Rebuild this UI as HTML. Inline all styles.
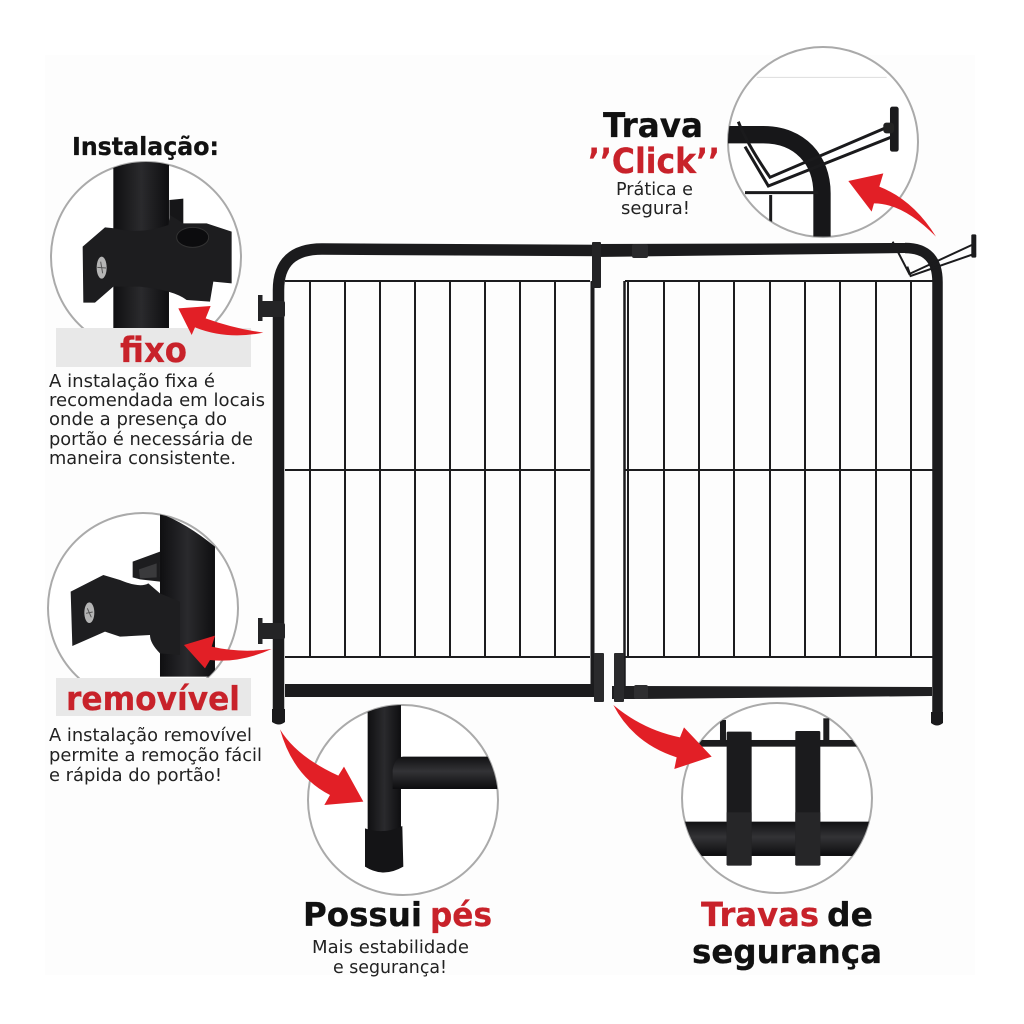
<!DOCTYPE html>
<html><head><meta charset="utf-8"><style>
html,body{margin:0;padding:0;background:#fff}
svg{display:block}
.h{font-family:"DejaVu Sans","Liberation Sans",sans-serif;font-weight:700;stroke-width:.3;paint-order:stroke}
.b{font-family:"DejaVu Sans","Liberation Sans",sans-serif;font-size:17.5px;fill:#222}
</style></head><body>
<svg xmlns="http://www.w3.org/2000/svg" width="1024" height="1024" viewBox="0 0 1024 1024">
<defs>
<clipPath id="c1"><circle cx="146" cy="257" r="95"/></clipPath>
<clipPath id="c2"><circle cx="143" cy="608" r="95"/></clipPath>
<clipPath id="c3"><circle cx="823" cy="142" r="95"/></clipPath>
<clipPath id="c4"><circle cx="403" cy="800" r="95"/></clipPath>
<clipPath id="c5"><circle cx="777" cy="798" r="95"/></clipPath>
<linearGradient id="tube" x1="0" y1="0" x2="0" y2="1"><stop offset="0" stop-color="#111113"/><stop offset=".45" stop-color="#333336"/><stop offset="1" stop-color="#0c0c0e"/></linearGradient>
<linearGradient id="vtube" x1="0" y1="0" x2="1" y2="0"><stop offset="0" stop-color="#0f0f11"/><stop offset=".5" stop-color="#2a2a2d"/><stop offset="1" stop-color="#0e0e10"/></linearGradient>
</defs>
<rect width="1024" height="1024" fill="#fff"/>
<rect x="45" y="55" width="930" height="920" fill="#fdfdfd"/>

<!-- gate mesh -->
<g stroke="#1c1c1e" stroke-width="2" fill="none">
<path d="M285 281H590M625 281H933M285 470H590M625 470H933M285 657H590M625 657H933"/>
<path d="M310 281V657M345 281V657M380 281V657M415 281V657M450 281V657M485 281V657M520 281V657M555 281V657"/>
<path d="M628 281V657M664 281V657M699 281V657M734 281V657M770 281V657M805 281V657M840 281V657M876 281V657M911 281V657"/>
</g>
<path d="M592.5 281V690" stroke="#1c1c1e" stroke-width="4" fill="none"/>
<path d="M624.500 281V690" stroke="#1c1c1e" stroke-width="2.500" fill="none"/>
<!-- frame -->
<g fill="none" stroke="#1b1b1d">
<path d="M278.5 709V290Q278.500 249 322 249L600 250.500" stroke-width="11.500"/>
<path d="M905 248Q937.500 248 937.500 282V712" stroke-width="10.500"/>
</g>
<path d="M596 244L905 243V253L596 257Z" fill="#1b1b1d"/>
<path d="M285 684H596V697H285Z" fill="#1b1b1d"/>
<path d="M612 686L640 686L932 687V696L640 699H612Z" fill="#1f1f21"/>
<rect x="632" y="244" width="16" height="14" rx="2" fill="#29292b"/>
<rect x="592" y="242" width="9" height="46" rx="1" fill="#232325"/>
<rect x="594" y="653" width="10" height="49" rx="1" fill="#2a2a2c"/>
<rect x="614" y="653" width="10" height="49" rx="1" fill="#2a2a2c"/>
<rect x="634" y="685" width="14" height="14" rx="2" fill="#2e2e30"/>
<path d="M272 709H285V722Q279 727 272 722Z" fill="#1a1a1c"/>
<path d="M931 712H943V723Q937 728 931 723Z" fill="#1a1a1c"/>
<!-- side clamps -->
<g fill="#242426">
<rect x="258" y="295" width="4.500" height="26"/><rect x="261" y="301" width="24" height="16" rx="2"/>
<rect x="258" y="618" width="4.500" height="26"/><rect x="261" y="623" width="24" height="16" rx="2"/>
</g>
<!-- small click latch -->
<g transform="translate(720 40) scale(.3333)">
<path d="M518 605L568 702L762 612M562 680L572 708L768 640" fill="none" stroke="#1b1b1d" stroke-width="6"/>
<rect x="754" y="583" width="15" height="70" rx="4" fill="#1b1b1d"/>
</g>

<!-- Circle 1: fixo -->
<circle cx="146" cy="257" r="95" fill="#fff" stroke="#aaa" stroke-width="2"/>
<g clip-path="url(#c1)">
<g transform="translate(40 120) scale(.3333)">
<rect x="220" y="125" width="167" height="530" fill="url(#vtube)"/>
<path d="M388 240L430 236V315H388Z" fill="#161618"/>
<path d="M128 380L195 322L225 325Q300 345 385 315L390 285L430 310H500L575 335V490L520 485L510 545L440 540Q400 510 300 500H220L165 548H130Z" fill="#1d1d1f"/>
<ellipse cx="458" cy="352" rx="48" ry="30" fill="#0c0c0e" stroke="#333" stroke-width="3"/>
<ellipse cx="185" cy="443" rx="15" ry="33" fill="#b5b5b5"/>
<path d="M182 425L188 460M172 442L198 444" stroke="#555" stroke-width="3"/>
</g></g>
<!-- Circle 2: removivel -->
<circle cx="143" cy="608" r="95" fill="#fff" stroke="#aaa" stroke-width="2"/>
<g clip-path="url(#c2)">
<g transform="translate(40 500) scale(.3333)">
<path d="M360 40Q440 70 525 140V530H360Z" fill="url(#vtube)"/>
<path d="M278 185L360 155V245L300 238L278 232Z" fill="#1d1d1f"/>
<path d="M297 208L350 190V232L300 235Z" fill="#3a3a3c"/>
<path d="M92 275L190 225L240 240Q300 265 325 250L360 280L420 305V465L360 460Q330 430 330 405L240 410L195 395L97 438Z" fill="#1e1e20"/>
<ellipse cx="148" cy="338" rx="15" ry="31" fill="#b5b5b5"/>
<path d="M142 325L154 352M138 340L158 336" stroke="#555" stroke-width="3"/>
</g></g>
<!-- Circle 3: click -->
<circle cx="823" cy="142" r="95" fill="#fff" stroke="#aaa" stroke-width="2"/>
<g clip-path="url(#c3)">
<g transform="translate(720 40) scale(.3333)">
<path d="M110 112H500" stroke="#ddd" stroke-width="3"/>
<path d="M20 284H130C240 284 306 360 306 460V590" fill="none" stroke="#171719" stroke-width="52"/>
<path d="M75 458H295M152 465V545" stroke="#1b1b1d" stroke-width="9" fill="none"/>
<path d="M55 245Q80 310 150 412L510 258M75 320L145 438L530 285" fill="none" stroke="#1a1a1c" stroke-width="9"/>
<rect x="510" y="200" width="26" height="135" rx="7" fill="#1a1a1c"/>
<rect x="490" y="248" width="32" height="32" rx="9" fill="#222"/>
</g></g>
<!-- Circle 4: pes -->
<circle cx="403" cy="800" r="95" fill="#fff" stroke="#aaa" stroke-width="2"/>
<g clip-path="url(#c4)">
<g transform="translate(270 640) scale(.3333)">
<rect x="293" y="190" width="100" height="390" fill="url(#vtube)"/>
<path d="M368 390Q375 350 400 350H690V447H368Z" fill="url(#tube)"/>
<path d="M285 565Q340 585 397 558L400 680Q340 715 285 680Z" fill="#141416"/>
</g></g>
<!-- Circle 5: travas -->
<circle cx="777" cy="798" r="95" fill="#fff" stroke="#aaa" stroke-width="2"/>
<g clip-path="url(#c5)">
<g transform="translate(570 640) scale(.3333)">
<rect x="340" y="300" width="560" height="20" fill="#1b1b1d"/>
<rect x="450" y="240" width="18" height="70" fill="#1b1b1d"/>
<rect x="760" y="235" width="18" height="75" fill="#1b1b1d"/>
<rect x="340" y="545" width="560" height="103" fill="url(#tube)"/>
<rect x="470" y="275" width="75" height="402" rx="4" fill="#1b1b1d"/>
<rect x="676" y="273" width="75" height="404" rx="4" fill="#1b1b1d"/>
<path d="M470 517H545V675H470ZM676 517H751V675H676Z" fill="#262628"/>
</g></g>

<!-- grey labels -->
<rect x="56" y="328" width="195" height="39" fill="#e8e8e8"/>
<rect x="56" y="678" width="195" height="38" fill="#e8e8e8"/>

<!-- red arrows -->
<g fill="#e21f26">
<path transform="translate(40 120) scale(.3333)" d="M415 565L512 558L497 595Q580 625 670 638Q560 660 465 622L455 645Z"/>
<path transform="translate(40 500) scale(.3333)" d="M432 435L525 407L515 440Q600 460 695 447Q600 490 510 480L495 505Z"/>
<path transform="translate(720 40) scale(.3333)" d="M385 423L490 400L478 440Q580 480 648 590Q550 490 462 490L455 515Z"/>
<path transform="translate(270 640) scale(.3333)" d="M30 268Q80 350 205 407L222 380L280 485L163 495L180 465Q70 410 30 268Z"/>
<path transform="translate(570 640) scale(.3333)" d="M130 195Q220 270 330 292L342 262L425 350L313 387L320 352Q190 310 130 195Z"/>
</g>

<!-- headings -->
<text class="h" x="72" y="155" font-size="25" fill="#111" stroke="#111" textLength="147" lengthAdjust="spacingAndGlyphs">Instalação:</text>
<text class="h" x="120" y="362" font-size="35" fill="#c8222a" stroke="#c8222a" textLength="67" lengthAdjust="spacingAndGlyphs">fixo</text>
<text class="h" x="66" y="710" font-size="33" fill="#c8222a" stroke="#c8222a" textLength="174" lengthAdjust="spacingAndGlyphs">removível</text>
<text class="h" x="603" y="137" font-size="34" fill="#111" stroke="#111" textLength="100" lengthAdjust="spacingAndGlyphs">Trava</text>
<text class="h" x="588" y="173" font-size="35" fill="#c8222a" stroke="#c8222a" textLength="132" lengthAdjust="spacingAndGlyphs">’’Click’’</text>
<text class="h" x="303" y="926" font-size="33" fill="#111" stroke="#111" textLength="119" lengthAdjust="spacingAndGlyphs">Possui</text>
<text class="h" x="430" y="926" font-size="33" fill="#c8222a" stroke="#c8222a" textLength="62" lengthAdjust="spacingAndGlyphs">pés</text>
<text class="h" x="701" y="926" font-size="33" fill="#c8222a" stroke="#c8222a" textLength="118" lengthAdjust="spacingAndGlyphs">Travas</text>
<text class="h" x="827" y="926" font-size="33" fill="#111" stroke="#111" textLength="46" lengthAdjust="spacingAndGlyphs">de</text>
<text class="h" x="692" y="963" font-size="33" fill="#111" stroke="#111" textLength="190" lengthAdjust="spacingAndGlyphs">segurança</text>

<!-- body -->
<text class="b" x="49" y="387" textLength="166" lengthAdjust="spacingAndGlyphs">A instalação fixa é</text>
<text class="b" x="49" y="406" textLength="216" lengthAdjust="spacingAndGlyphs">recomendada em locais</text>
<text class="b" x="49" y="425" textLength="178" lengthAdjust="spacingAndGlyphs">onde a presença do</text>
<text class="b" x="49" y="445" textLength="204" lengthAdjust="spacingAndGlyphs">portão é necessária de</text>
<text class="b" x="49" y="464" textLength="187" lengthAdjust="spacingAndGlyphs">maneira consistente.</text>
<text class="b" x="49" y="741" textLength="203" lengthAdjust="spacingAndGlyphs">A instalação removível</text>
<text class="b" x="49" y="761" textLength="213" lengthAdjust="spacingAndGlyphs">permite a remoção fácil</text>
<text class="b" x="49" y="781" textLength="173" lengthAdjust="spacingAndGlyphs">e rápida do portão!</text>
<text class="b" x="616" y="195" textLength="77" lengthAdjust="spacingAndGlyphs">Prática e</text>
<text class="b" x="621" y="214" textLength="69" lengthAdjust="spacingAndGlyphs">segura!</text>
<text class="b" x="312" y="953" textLength="157" lengthAdjust="spacingAndGlyphs">Mais estabilidade</text>
<text class="b" x="333" y="973" textLength="114" lengthAdjust="spacingAndGlyphs">e segurança!</text>
</svg>
</body></html>
